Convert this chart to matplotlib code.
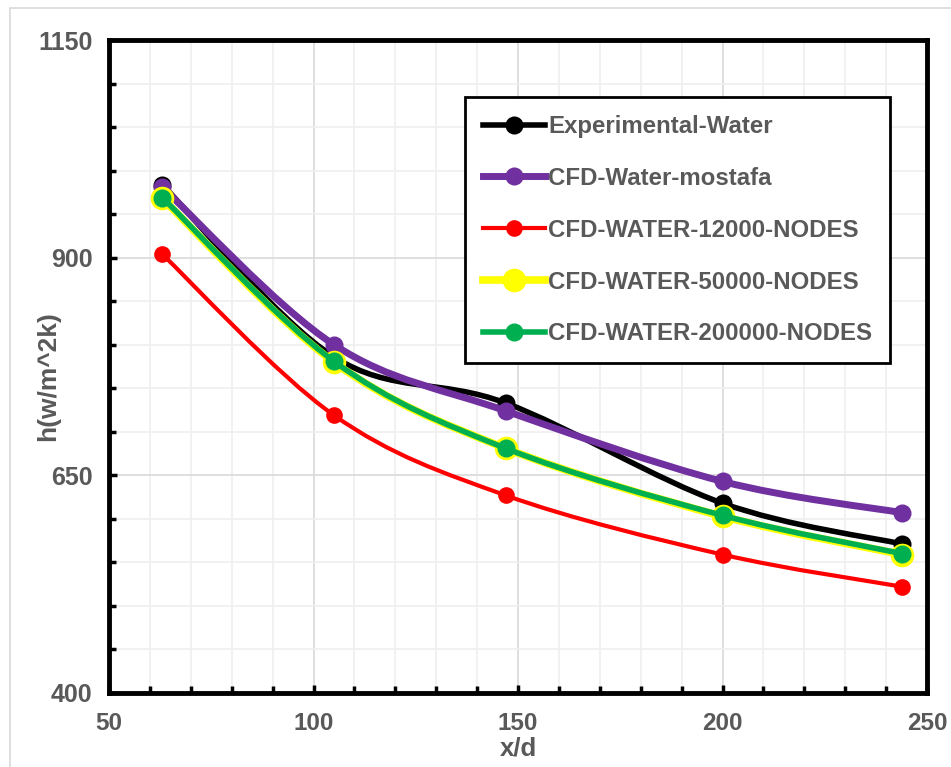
import numpy as np
import matplotlib
matplotlib.use("agg")
import matplotlib.pyplot as plt
from matplotlib.path import Path
from matplotlib.patches import PathPatch, Rectangle
from matplotlib.lines import Line2D

plt.rcParams['font.family'] = ['Liberation Sans', 'DejaVu Sans']

x_d = [63, 105, 147, 200, 244]
experimental = [984, 786, 733, 618, 571]
cfd_mostafa = [981, 800, 724, 643, 607]
nodes_12000 = [904, 719, 627, 559, 522]
nodes_50000 = [968, 780, 681, 603, 559]
nodes_200000 = [969, 781, 681, 604, 560]

series = [
    ("Experimental-Water", experimental, "#000000", 4.0, 13),
    ("CFD-Water-mostafa", cfd_mostafa, "#7030A0", 5.0, 13),
    ("CFD-WATER-12000-NODES", nodes_12000, "#FF0000", 3.0, 12),
    ("CFD-WATER-50000-NODES", nodes_50000, "#FFFF00", 5.5, 17),
    ("CFD-WATER-200000-NODES", nodes_200000, "#00B050", 4.0, 13),
]

grey = "#595959"


def smooth_path(xs, ys):
    # excel-like smoothed line: cubic bezier through the points
    pts = np.column_stack([xs, ys]).astype(float)
    n = len(pts)
    verts = [pts[0]]
    codes = [Path.MOVETO]
    for i in range(n - 1):
        p0 = pts[max(i - 1, 0)]
        p1 = pts[i]
        p2 = pts[i + 1]
        p3 = pts[min(i + 2, n - 1)]
        c1 = p1 + (p2 - p0) / 6.0
        c2 = p2 - (p3 - p1) / 6.0
        verts += [c1, c2, p2]
        codes += [Path.CURVE4] * 3
    return Path(verts, codes)


fig = plt.figure(figsize=(9.51, 7.67), dpi=100)
fig.patches.append(Rectangle((10 / 951, -0.05), 1.2, 1 - 8 / 767 + 0.05,
                             transform=fig.transFigure, fill=False,
                             edgecolor="#D9D9D9", linewidth=1.2))
ax = fig.add_axes([109 / 951, 1 - 693 / 767, 818 / 951, 653 / 767])

ax.set_xlim(50, 250)
ax.set_ylim(400, 1150)
ax.set_xticks(np.arange(50, 251, 50))
ax.set_xticks(np.arange(50, 251, 10), minor=True)
ax.set_yticks([400, 650, 900, 1150])
ax.set_yticks(np.arange(400, 1151, 50), minor=True)
ax.grid(which="minor", color="#EFEFEF", linewidth=1.2, zorder=0)
ax.grid(which="major", color="#D9D9D9", linewidth=1.2, zorder=0)
ax.set_axisbelow(True)

for spine in ax.spines.values():
    spine.set_linewidth(3.5)
    spine.set_color("black")

ax.tick_params(which="both", direction="in", color="black", width=2.5)
ax.tick_params(which="major", length=6)
ax.tick_params(which="minor", length=5)
ax.tick_params(axis="y", labelsize=18, labelcolor=grey, pad=12)
ax.tick_params(axis="x", labelsize=17.5, labelcolor=grey, pad=14)
for lab in ax.get_xticklabels() + ax.get_yticklabels():
    lab.set_fontweight("bold")

handles = []
for i, (name, vals, col, lw, ms) in enumerate(series):
    z = 3 + i
    ax.add_patch(PathPatch(smooth_path(x_d, vals), fill=False, edgecolor=col,
                           linewidth=lw, capstyle="round", zorder=z))
    ax.plot(x_d, vals, "o", color=col, markersize=ms, markeredgewidth=0, zorder=z)
    handles.append(Line2D([], [], color=col, linewidth=lw, marker="o",
                          markersize=ms, markeredgewidth=0))

leg = ax.legend(handles, [s[0] for s in series], loc="upper left",
                bbox_to_anchor=(356 / 818, 1 - 57 / 653),
                prop={"weight": "bold", "size": 17.3}, labelcolor=grey,
                frameon=True, fancybox=False, edgecolor="black",
                framealpha=1, handlelength=2.6, handletextpad=0.1,
                labelspacing=1.2, borderpad=0.75, borderaxespad=0)
leg.get_frame().set_linewidth(2)

ax.set_xlabel("x/d", fontsize=18.5, fontweight="bold", color=grey, labelpad=1)
ax.set_ylabel("h(w/m^2k)", fontsize=19, fontweight="bold", color=grey)
ax.yaxis.set_label_coords(-0.06, 1 - (376 - 40) / 653)

fig.savefig("out.png", dpi=100)
